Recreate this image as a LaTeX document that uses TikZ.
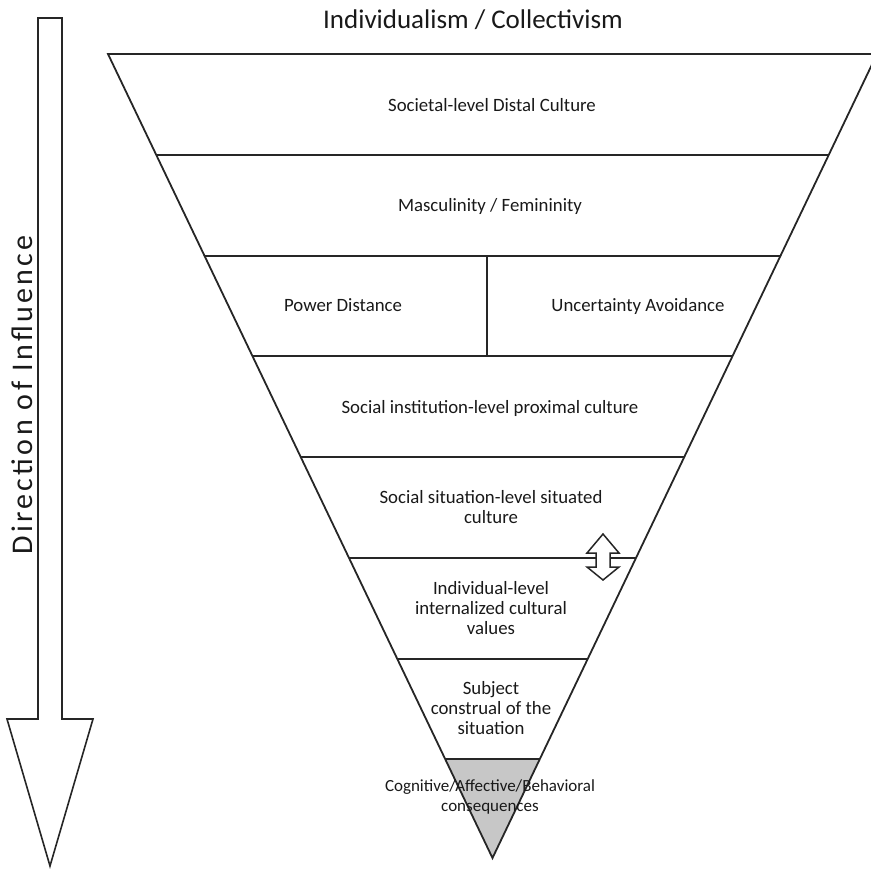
\documentclass[tikz,border=0pt]{standalone}
\usepackage{fontspec}
\setmainfont{Carlito}
\newfontfamily\widelabel[LetterSpace=11]{Carlito}
\usetikzlibrary{calc}
\begin{document}
\begin{tikzpicture}[x=1pt,y=-1pt,line join=miter,
  edge/.style={line width=1.8pt,draw=black!85},
  lbl/.style={font=\fontsize{18.8}{20}\selectfont,text=black!90,align=center,inner sep=0pt},
  small/.style={font=\fontsize{17}{20}\selectfont,text=black!90,align=center,inner sep=0pt}]
\useasboundingbox (0,0) rectangle (871,870);
\clip (0,0) rectangle (871,870);

% inverted triangle: two top corners and the apex
\coordinate (TL) at (108,54);
\coordinate (TR) at (877,54);
\coordinate (A) at (492.5,858);

% level boundaries along both sides
\foreach \y [count=\i] in {155,256,356,457,558,659,759} {
  \coordinate (L\i) at ($(TL)!{(\y-54)/804}!(A)$);
  \coordinate (R\i) at ($(TR)!{(\y-54)/804}!(A)$);
}

% shaded bottom level
\fill[black!22] (L7) -- (R7) -- (A) -- cycle;

% outline and level lines
\draw[edge] (TL) -- (TR) -- (A) -- cycle;
\foreach \i in {1,...,7} \draw[edge] (L\i) -- (R\i);

% split of the third level
\coordinate (div) at (487,0);
\draw[edge] (div |- L2) -- (div |- L3);

% two-way arrow between situated culture and individual level
\draw[line width=1.5pt,draw=black!85,fill=white]
  (603,534) -- (619,553) -- (610,553) -- (610,567) -- (619,567) -- (603,580)
  -- (587,567) -- (596,567) -- (596,553) -- (587,553) -- cycle;

% direction arrow on the left
\draw[line width=1.6pt,draw=black!85,fill=white]
  (38,18) -- (62,18) -- (62,719) -- (93,719) -- (50,866) -- (7,719) -- (38,719) -- cycle;
\node[rotate=90,anchor=base,inner sep=0pt,text=black!90,
      font=\widelabel\fontsize{30}{32}\selectfont] (dir) at (32,395) {Direction of Influence};

% title
\node[anchor=base,inner sep=0pt,text=black!90,font=\fontsize{27}{30}\selectfont]
  (title) at (473,28) {Individualism / Collectivism};

% level labels
\node[lbl,anchor=base] (t1) at (492,111) {Societal-level Distal Culture};
\node[lbl,anchor=base] (t2) at (490,211) {Masculinity / Femininity};
\node[lbl,anchor=base] (t3) at (343,311) {Power Distance};
\node[lbl,anchor=base] (t4) at (638,311) {Uncertainty Avoidance};
\node[lbl,anchor=base] (t5) at (490,413) {Social institution-level proximal culture};
\node[lbl] (t6) at (491,507) {Social situation-level situated\\culture};
\node[lbl] (t7) at (491,608) {Individual-level\\internalized cultural\\values};
\node[lbl] (t8) at (491,708) {Subject\\construal of the\\situation};
\node[small] (t9) at (490,797) {Cognitive/Affective/Behavioral\\consequences};
\end{tikzpicture}
\end{document}
